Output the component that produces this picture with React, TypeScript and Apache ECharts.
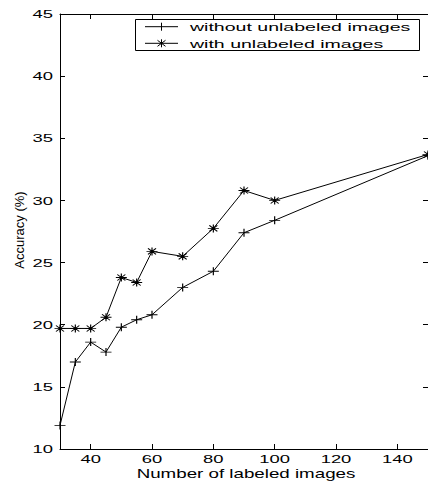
import React, { useEffect, useRef } from "react";
import * as echarts from "echarts";

const xValues = [30, 35, 40, 45, 50, 55, 60, 70, 80, 90, 100, 150];
const withoutUnlabeled = [11.9, 17.0, 18.6, 17.8, 19.8, 20.4, 20.8, 23.0, 24.3, 27.4, 28.4, 33.6];
const withUnlabeled = [19.7, 19.7, 19.7, 20.6, 23.8, 23.4, 25.9, 25.5, 27.75, 30.8, 30.0, 33.7];
const xTicks = [40, 60, 80, 100, 120, 140];
const yTicks = [10, 15, 20, 25, 30, 35, 40, 45];
const seriesNames = ["without unlabeled images", "with unlabeled images"];
const xTitle = "Number of labeled images";
const yTitle = "Accuracy (%)";

const FONT = '"Liberation Sans", Arial, Helvetica, sans-serif';
const PLUS = "path://M0,4H11M5.5,0V8";
const STAR = "path://M0,4H11M5.5,0V8M1.5,1L9.5,7M1.5,7L9.5,1";

export default function App() {
  const ref = useRef<HTMLDivElement>(null);
  useEffect(() => {
    if (!ref.current) return;
    const chart = echarts.init(ref.current, null, { renderer: "svg" });
    const axisLine = { show: true, lineStyle: { color: "#000", width: 1 } };
    const tick = (vals?: number[]) => ({
      show: true,
      inside: true,
      length: 5,
      lineStyle: { color: "#000", width: 1 },
      ...(vals ? { customValues: vals } : {}),
    });
    const mkData = (ys: number[]) => xValues.map((x, i) => [x, ys[i]]);
    chart.setOption({
      animation: false,
      backgroundColor: "#fff",
      grid: { left: 60, top: 14, right: -1, bottom: 34, containLabel: false },
      xAxis: [
        {
          type: "value", min: 30, max: 150, position: "bottom",
          axisLine, axisTick: tick(xTicks), axisLabel: { show: false }, splitLine: { show: false },
        },
        {
          type: "value", min: 30, max: 150, position: "top",
          axisLine, axisTick: tick(xTicks), axisLabel: { show: false }, splitLine: { show: false },
        },
      ],
      yAxis: [
        {
          type: "value", min: 10, max: 45, interval: 5, position: "left",
          axisLine, axisTick: tick(), axisLabel: { show: false }, splitLine: { show: false },
        },
        {
          type: "value", min: 10, max: 45, interval: 5, position: "right",
          axisLine, axisTick: tick(), axisLabel: { show: false }, splitLine: { show: false },
        },
      ],
      series: [
        {
          name: seriesNames[0], type: "line", data: mkData(withoutUnlabeled),
          symbol: PLUS, symbolSize: [11, 8], showAllSymbol: true,
          lineStyle: { color: "#000", width: 1 },
          itemStyle: { color: "#000", borderColor: "#000", borderWidth: 1 },
          clip: false,
        },
        {
          name: seriesNames[1], type: "line", data: mkData(withUnlabeled),
          symbol: STAR, symbolSize: [11, 8], showAllSymbol: true,
          lineStyle: { color: "#000", width: 1 },
          itemStyle: { color: "#000", borderColor: "#000", borderWidth: 1 },
          clip: false,
        },
      ],
    });

    const graphics: any[] = [];
    const tickFont = `11.5px ${FONT}`;
    xTicks.forEach((v) => {
      const px = chart.convertToPixel({ xAxisIndex: 0 }, v) as number;
      graphics.push({
        type: "text", x: px, y: 459, scaleX: 1.6,
        style: { text: String(v), font: tickFont, fill: "#000", align: "center", verticalAlign: "middle" },
      });
    });
    yTicks.forEach((v) => {
      const py = chart.convertToPixel({ yAxisIndex: 0 }, v) as number;
      graphics.push({
        type: "text", x: 53, y: py, scaleX: 1.6,
        style: { text: String(v), font: tickFont, fill: "#000", align: "right", verticalAlign: "middle" },
      });
    });
    graphics.push({
      type: "text", x: 246, y: 474, scaleX: 1.5,
      style: { text: xTitle, font: `12.5px ${FONT}`, fill: "#000", align: "center", verticalAlign: "middle" },
    });
    graphics.push({
      type: "text", x: 19, y: 230, rotation: Math.PI / 2,
      style: { text: yTitle, font: `13px ${FONT}`, fill: "#000", align: "center", verticalAlign: "middle" },
    });
    // legend
    const lx0 = 145, lx1 = 178, lc = 161.5;
    const rows = [26.7, 43.3];
    const legend: any[] = [
      { type: "rect", shape: { x: 135.5, y: 19.5, width: 284, height: 31 }, style: { fill: "#fff", stroke: "#000", lineWidth: 1 } },
    ];
    rows.forEach((ry, i) => {
      legend.push({ type: "line", shape: { x1: lx0, y1: ry, x2: lx1, y2: ry }, style: { stroke: "#000", lineWidth: 1 } });
      legend.push({ type: "line", shape: { x1: lc, y1: ry - 4, x2: lc, y2: ry + 4 }, style: { stroke: "#000", lineWidth: 1 } });
      if (i === 1) {
        legend.push({ type: "line", shape: { x1: lc - 4, y1: ry - 3, x2: lc + 4, y2: ry + 3 }, style: { stroke: "#000", lineWidth: 1 } });
        legend.push({ type: "line", shape: { x1: lc - 4, y1: ry + 3, x2: lc + 4, y2: ry - 3 }, style: { stroke: "#000", lineWidth: 1 } });
      }
      legend.push({
        type: "text", x: 190, y: ry, scaleX: 1.7,
        style: { text: seriesNames[i], font: `11.5px ${FONT}`, fill: "#000", align: "left", verticalAlign: "middle" },
      });
    });
    graphics.push({ type: "group", children: legend });
    chart.setOption({ graphic: graphics });
    return () => chart.dispose();
  }, []);
  return (
    <div
      ref={ref}
      style={{ position: "fixed", left: 0, top: 0, width: 428, height: 483, background: "#fff" }}
    />
  );
}
